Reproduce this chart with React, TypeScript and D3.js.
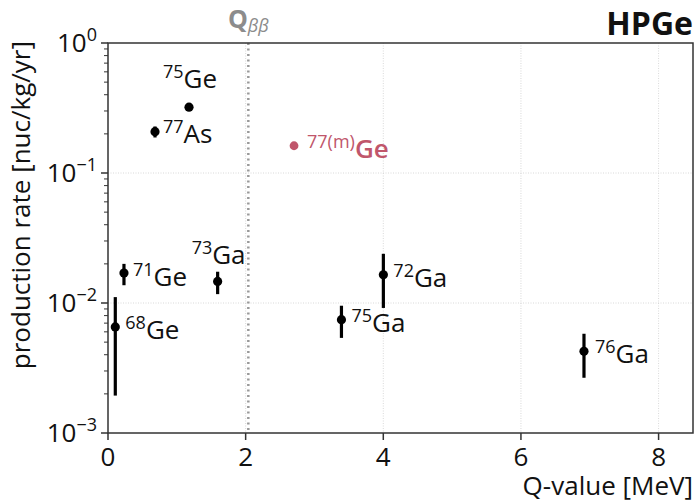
import React from "react";
import * as d3 from "d3";

// isotope data (Q-value in MeV, production rate in nuc/kg/yr)
const masses = ["68", "71", "73", "75", "72", "76", "75", "77"];
const elements = ["Ge", "Ge", "Ga", "Ga", "Ga", "Ga", "Ge", "As"];
const qValues = [0.106, 0.232, 1.593, 3.392, 4.001, 6.916, 1.177, 0.683];
const rates = [0.00654, 0.017, 0.01466, 0.00744, 0.0165, 0.00425, 0.321, 0.208];
const ratesHigh = [0.0111, 0.02, 0.0174, 0.00953, 0.0239, 0.0058, 0.327, 0.228];
const ratesLow = [0.00194, 0.0137, 0.0117, 0.00539, 0.00916, 0.00266, 0.315, 0.1876];

// metastable 77Ge, no error bar
const metaMass = "77(m)";
const metaElement = "Ge";
const metaQ = 2.703;
const metaRate = 0.162;

const qBB = 2.039;
const xTicks = [0, 2, 4, 6, 8];
const yExponents = [-3, -2, -1, 0];

// label offsets in px from each point
const labelDx = [10, 9, -26, 10, 10, 11, -26, 8];
const labelDy = [12, 13, -17, 12, 12, 12, -19, 11];

const W = 694, H = 503;
const margin = { top: 43, right: 1, bottom: 70, left: 108 };
const FONT = "'Open Sans', 'Noto Sans', sans-serif";
const META_COLOR = "#c0566b";

function Label({ x, y, sup, main, color = "#111", weight = 400 }) {
  return (
    <text x={x} y={y} fill={color} fontFamily={FONT}>
      <tspan fontSize={18} dy={-10}>{sup}</tspan>
      <tspan fontSize={26} dy={10} fontWeight={weight}>{main}</tspan>
    </text>
  );
}

export default function App() {
  const w = W - margin.left - margin.right;
  const h = H - margin.top - margin.bottom;
  const x = d3.scaleLinear().domain([0, 8.5]).range([0, w]);
  const y = d3.scaleLog().domain([1e-3, 1]).range([h, 0]);

  const minor = [];
  for (let e = -3; e < 0; e++) {
    for (let m = 2; m <= 9; m++) minor.push(m * Math.pow(10, e));
  }

  return (
    <svg width={W} height={H} style={{ position: "absolute", left: 0, top: 0 }} fontFamily={FONT}>
      <g transform={`translate(${margin.left},${margin.top})`}>
        {/* grid */}
        {xTicks.slice(1).map(t => (
          <line key={"gx" + t} x1={x(t)} x2={x(t)} y1={0} y2={h} stroke="#cfcfcf" strokeWidth={0.8} strokeDasharray="1,1.5" />
        ))}
        {yExponents.slice(1, -1).map(e => (
          <line key={"gy" + e} x1={0} x2={w} y1={y(Math.pow(10, e))} y2={y(Math.pow(10, e))} stroke="#cfcfcf" strokeWidth={0.8} strokeDasharray="1,1.5" />
        ))}

        {/* Q beta beta line */}
        <line x1={x(qBB)} x2={x(qBB)} y1={0} y2={h} stroke="#999" strokeWidth={2.5} strokeDasharray="2,3.5" />
        <text x={x(qBB)} y={-15} textAnchor="middle" fill="#8c8c8c" fontFamily={FONT}>
          <tspan fontSize={25} fontWeight={700}>Q</tspan>
          <tspan fontSize={18} fontStyle="italic" dy={4}>ββ</tspan>
        </text>

        {/* error bars and points */}
        {qValues.map((q, i) => (
          <g key={"p" + i}>
            <line x1={x(q)} x2={x(q)} y1={y(ratesHigh[i])} y2={y(ratesLow[i])} stroke="#000" strokeWidth={3.2} />
            <circle cx={x(q)} cy={y(rates[i])} r={4.6} fill="#000" />
            <Label x={x(q) + labelDx[i]} y={y(rates[i]) + labelDy[i]} sup={masses[i]} main={elements[i]} />
          </g>
        ))}
        <circle cx={x(metaQ)} cy={y(metaRate)} r={4.4} fill={META_COLOR} />
        <Label x={x(metaQ) + 13} y={y(metaRate) + 12} sup={metaMass} main={metaElement} color={META_COLOR} weight={600} />

        {/* spines */}
        <rect x={0} y={0} width={w} height={h} fill="none" stroke="#333" strokeWidth={1.5} />

        {/* x axis */}
        {xTicks.map(t => (
          <g key={"xt" + t} transform={`translate(${x(t)},${h})`}>
            <line y1={0} y2={7} stroke="#333" strokeWidth={1.5} />
            <text y={33} textAnchor="middle" fontSize={26} fill="#111">{t}</text>
          </g>
        ))}
        <text x={w} y={h + 62} textAnchor="end" fontSize={26} fill="#111">Q-value [MeV]</text>

        {/* y axis */}
        {minor.map((v, i) => (
          <line key={"ym" + i} x1={-4} x2={0} y1={y(v)} y2={y(v)} stroke="#333" strokeWidth={1} />
        ))}
        {yExponents.map(e => (
          <g key={"yt" + e} transform={`translate(0,${y(Math.pow(10, e))})`}>
            <line x1={-7} x2={0} stroke="#333" strokeWidth={1.5} />
            <text x={-11} y={9} textAnchor="end" fill="#111">
              <tspan fontSize={26}>10</tspan>
              <tspan fontSize={18} dy={-11}>{e < 0 ? "−" + Math.abs(e) : e}</tspan>
            </text>
          </g>
        ))}
        <text transform={`translate(-78,-2) rotate(-90)`} textAnchor="end" fontSize={26} fill="#111">
          production rate [nuc/kg/yr]
        </text>

        {/* title */}
        <text x={w} y={-8} textAnchor="end" fontSize={32} fontWeight={700} fill="#111">HPGe</text>
      </g>
    </svg>
  );
}
